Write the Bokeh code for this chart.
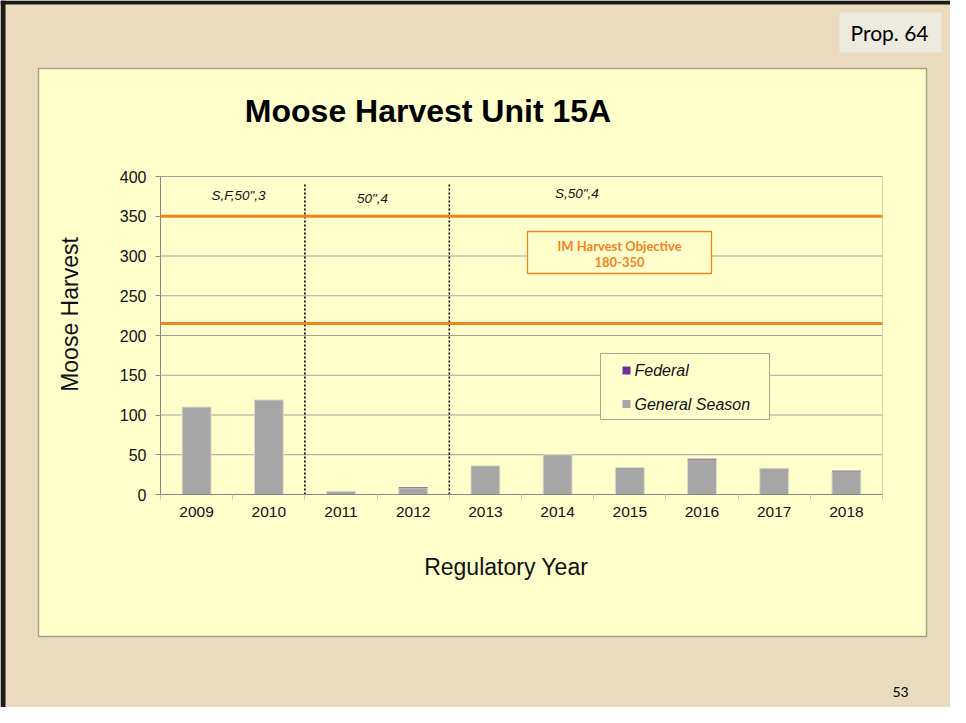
import math
from bokeh.plotting import figure
from bokeh.models import Range1d, FixedTicker, Label, BoxAnnotation, ColumnDataSource, LinearAxis
from bokeh.embed import file_html
from bokeh.resources import INLINE

# ---- data ----
years = ["2009", "2010", "2011", "2012", "2013", "2014", "2015", "2016", "2017", "2018"]
general_season = [110, 119, 4, 8, 36, 50, 34, 44, 33, 29]
federal = [0, 0, 0, 1, 0, 0, 0, 1, 0, 1]
objective_low = 215
objective_high = 350
objective_text = ["IM Harvest Objective", "180-350"]
period_labels = ['S,F,50",3', '50",4', 'S,50",4']
period_breaks = [2, 4]
y_ticks = [0, 50, 100, 150, 200, 250, 300, 350, 400]
y_max = 400

# ---- layout (pixels) ----
W, H = 950, 707
FL, FR, FT, FB = 160, 882, 176, 494      # plot area in canvas pixels (top-left origin)

SLIDE = "#EADBBE"
YELLOW = "#FFFFCC"
ORANGE = "#F5821F"
GRAY = "#A6A6A6"
PURPLE = "#7030A0"
ARIAL = "Liberation Sans"
CALIBRI = "Lato"

n = len(years)
ppu = (FR - FL) / n
ppv = (FB - FT) / y_max
cat_range = Range1d(-FL / ppu, (W - FL) / ppu)
val_range = Range1d(-(H - FB) / ppv, FB / ppv)

centers = [i + 0.5 for i in range(n)]
src = ColumnDataSource(dict(x=centers, general=general_season, federal=federal))

# default ranges are the slide's pixel grid (y measured upward) for decorations
p = figure(width=W, height=H, output_backend="svg", toolbar_location=None,
           x_range=Range1d(0, W), y_range=Range1d(0, H),
           x_axis_type=None, y_axis_type=None, min_border=0,
           background_fill_color=SLIDE, border_fill_color=SLIDE, outline_line_color=None)
p.extra_x_ranges = {"cat": cat_range}
p.extra_y_ranges = {"val": val_range}
p.grid.visible = False


def Y(ry):
    return H - ry


def box(l, t, r, b, fill, line=None, lw=1, level="annotation"):
    p.add_layout(BoxAnnotation(left=l, right=r, top=Y(t), bottom=Y(b), fill_color=fill, fill_alpha=1,
                               line_color=line, line_alpha=1, line_width=lw, level=level))


def lab(text, x, y, size, font=ARIAL, style="normal", color="#111111", align="center", angle=0):
    p.add_layout(Label(x=x, y=Y(y), text=text, text_font=font, text_font_size=size,
                       text_font_style=style, text_color=color, text_align=align,
                       text_baseline="middle", angle=angle))


# slide frame, chart panel, Prop. box
box(0, 0, 5, H, "#1A1A1A", level="underlay")
box(0, 0, W, 4, "#1A1A1A", level="underlay")
box(38, 68, 926, 636, YELLOW, line="#A2A284", lw=1.5, level="underlay")
box(839, 12, 941, 52, "#EDEBE0", level="underlay")

kw = dict(x_range_name="cat", y_range_name="val")

# grid lines & plot-area right edge
p.segment(x0=0, x1=n, y0=y_ticks[1:], y1=y_ticks[1:], line_color="#A0A0A0", line_width=1.2, **kw)
p.segment(x0=[n], x1=[n], y0=[0], y1=[y_max], line_color="#DCDCB4", line_width=1.2, **kw)

# bars
p.vbar_stack(["general", "federal"], x="x", width=0.4, source=src,
             fill_color=[GRAY, PURPLE], line_color=["#DCDCC8", None], line_width=1, **kw)

# period separators
p.segment(x0=period_breaks, y0=0, x1=period_breaks, y1=392,
          line_color="black", line_width=1.6, line_dash="2 2", **kw)

# objective lines
p.segment(x0=0, x1=n, y0=[objective_low, objective_high], y1=[objective_low, objective_high],
          line_color=ORANGE, line_width=3, **kw)

# axes drawn at the plot area's edges
yax = LinearAxis(fixed_location=0, bounds=(0, y_max), ticker=FixedTicker(ticks=y_ticks), **kw)
yax.major_label_text_font = ARIAL
yax.major_label_text_font_size = "16px"
yax.major_label_text_color = "#111111"
yax.axis_line_color = "#868686"
yax.major_tick_line_color = "#868686"
yax.major_tick_out = 5
yax.major_tick_in = 0
yax.minor_tick_line_color = None
yax.major_label_standoff = 9
p.add_layout(yax, "left")

xax = LinearAxis(fixed_location=0, bounds=(0, n),
                 ticker=FixedTicker(ticks=centers, minor_ticks=list(range(n + 1))), **kw)
xax.major_label_overrides = {c: yr for c, yr in zip(centers, years)}
xax.major_label_text_font = ARIAL
xax.major_label_text_font_size = "15.5px"
xax.major_label_text_color = "#111111"
xax.axis_line_color = "#868686"
xax.major_tick_line_color = None
xax.major_tick_out = 0
xax.major_tick_in = 0
xax.minor_tick_line_color = "#C8C8B4"
xax.minor_tick_out = 5
xax.minor_tick_in = 0
xax.major_label_standoff = 7
p.add_layout(xax, "below")

# title, axis labels, slide texts
lab("Moose Harvest Unit 15A", 427.5, 110, "32px", style="bold", color="black")
lab("Moose Harvest", 69, 314, "23px", angle=math.pi / 2)
lab("Regulatory Year", 505.7, 566, "23px")
lab("Prop. 64", 889, 32, "21px", font=CALIBRI, color="black")
lab("53", 900, 691, "14px", font=CALIBRI, color="black")

# period labels
for t, x, y in zip(period_labels, [238, 372, 576.3], [195, 198.3, 192.7]):
    lab(t, x, y, "13.5px", style="italic")

# objective box
box(527, 231, 711, 273, YELLOW, line=ORANGE, lw=1.3)
lab(objective_text[0], 619, 245, "13px", font=CALIBRI, style="bold", color=ORANGE)
lab(objective_text[1], 619, 261, "13px", font=CALIBRI, style="bold", color=ORANGE)

# legend
box(600, 353, 769, 419, YELLOW, line="#A8A890", lw=1)
for name, col, yc in (("Federal", PURPLE, 370), ("General Season", GRAY, 403.5)):
    box(622, yc - 4, 630, yc + 4, col)
    lab(name, 634, yc, "16px", style="italic", align="left")

open("out.html", "w").write(file_html(p, INLINE))
